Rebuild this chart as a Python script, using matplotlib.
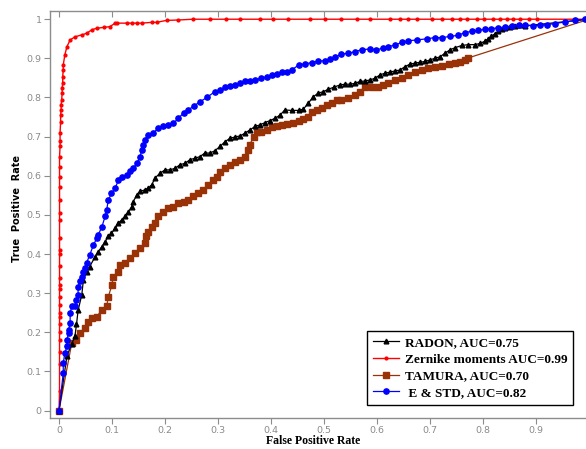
import matplotlib
matplotlib.use("Agg")
import matplotlib.pyplot as plt

# ---- data, (FPR, TPR) pairs ----
radon_points = [
    (0, 0), (0.015, 0.14), (0.024, 0.17), (0.03, 0.19), (0.033, 0.22), (0.036, 0.256), (0.043, 0.296),
    (0.046, 0.334), (0.052, 0.355), (0.058, 0.368), (0.068, 0.393), (0.074, 0.406), (0.081, 0.419),
    (0.087, 0.432), (0.093, 0.445), (0.099, 0.453), (0.106, 0.466), (0.112, 0.479), (0.118, 0.487),
    (0.125, 0.496), (0.131, 0.508), (0.137, 0.521), (0.140, 0.534), (0.147, 0.551), (0.153, 0.560),
    (0.162, 0.564), (0.168, 0.568), (0.175, 0.577), (0.181, 0.594), (0.191, 0.607), (0.200, 0.615),
    (0.209, 0.615), (0.219, 0.619), (0.228, 0.628), (0.238, 0.632), (0.247, 0.641), (0.257, 0.645),
    (0.266, 0.649), (0.275, 0.658), (0.285, 0.658), (0.294, 0.664), (0.304, 0.675), (0.313, 0.687),
    (0.323, 0.696), (0.332, 0.699), (0.342, 0.702), (0.351, 0.709), (0.360, 0.717), (0.370, 0.726),
    (0.379, 0.730), (0.389, 0.736), (0.398, 0.741), (0.408, 0.747), (0.417, 0.755), (0.426, 0.768),
    (0.439, 0.767), (0.452, 0.767), (0.461, 0.770), (0.470, 0.785), (0.480, 0.802), (0.489, 0.811),
    (0.499, 0.815), (0.508, 0.821), (0.518, 0.826), (0.530, 0.832), (0.540, 0.834), (0.549, 0.834),
    (0.558, 0.836), (0.568, 0.841), (0.577, 0.842), (0.587, 0.845), (0.596, 0.849), (0.606, 0.858),
    (0.615, 0.862), (0.625, 0.865), (0.634, 0.868), (0.643, 0.870), (0.653, 0.879), (0.662, 0.885),
    (0.672, 0.888), (0.681, 0.890), (0.691, 0.892), (0.700, 0.896), (0.709, 0.900), (0.719, 0.904),
    (0.728, 0.913), (0.738, 0.922), (0.747, 0.927), (0.760, 0.933), (0.772, 0.935), (0.785, 0.935),
    (0.794, 0.938), (0.804, 0.944), (0.810, 0.950), (0.816, 0.957), (0.823, 0.963), (0.829, 0.969),
    (0.835, 0.974), (0.842, 0.978), (0.851, 0.980), (0.860, 0.983), (0.870, 0.985), (0.879, 0.983),
    (1.0, 1.0)]

zernike_points = [
    (0, 0), (0.001, 0.05), (0.001, 0.12), (0.001, 0.15), (0.001, 0.18), (0.001, 0.20), (0.001, 0.22),
    (0.001, 0.24), (0.001, 0.25), (0.001, 0.27), (0.001, 0.29), (0.001, 0.31), (0.001, 0.32),
    (0.001, 0.34), (0.001, 0.37), (0.001, 0.40), (0.001, 0.41), (0.001, 0.44), (0.001, 0.487),
    (0.001, 0.504), (0.001, 0.538), (0.001, 0.572), (0.001, 0.598), (0.001, 0.623), (0.001, 0.649),
    (0.002, 0.675), (0.002, 0.69), (0.002, 0.709), (0.003, 0.738), (0.003, 0.755), (0.004, 0.768),
    (0.004, 0.781), (0.005, 0.794), (0.006, 0.811), (0.006, 0.825), (0.007, 0.837), (0.007, 0.853),
    (0.008, 0.87), (0.008, 0.883), (0.011, 0.909), (0.015, 0.93), (0.021, 0.947), (0.03, 0.955),
    (0.043, 0.96), (0.052, 0.964), (0.062, 0.973), (0.071, 0.977), (0.084, 0.979), (0.096, 0.981),
    (0.106, 0.99), (0.109, 0.99), (0.128, 0.99), (0.137, 0.99), (0.147, 0.99), (0.156, 0.99),
    (0.175, 0.992), (0.184, 0.992), (0.203, 0.997), (0.225, 0.998), (0.253, 1.0), (0.285, 1.0),
    (0.316, 1.0), (0.342, 1.0), (0.379, 1.0), (0.404, 1.0), (0.433, 1.0), (0.474, 1.0), (0.502, 1.0),
    (0.532, 1.0), (0.562, 1.0), (0.587, 1.0), (0.625, 1.0), (0.643, 1.0), (0.658, 1.0), (0.675, 1.0),
    (0.703, 1.0), (0.722, 1.0), (0.741, 1.0), (0.757, 1.0), (0.769, 1.0), (0.788, 1.0), (0.801, 1.0),
    (0.819, 1.0), (0.832, 1.0), (0.845, 1.0), (0.857, 1.0), (0.87, 1.0), (0.886, 1.0), (0.901, 1.0),
    (1.0, 1.0)]

tamura_points = [
    (0, 0), (0.024, 0.172), (0.033, 0.18), (0.04, 0.198), (0.049, 0.21), (0.055, 0.227), (0.062, 0.236),
    (0.071, 0.24), (0.081, 0.257), (0.09, 0.266), (0.093, 0.291), (0.1, 0.321), (0.102, 0.342),
    (0.112, 0.355), (0.115, 0.372), (0.125, 0.377), (0.134, 0.39), (0.143, 0.402), (0.153, 0.415),
    (0.162, 0.428), (0.165, 0.445), (0.168, 0.457), (0.175, 0.470), (0.181, 0.479), (0.187, 0.496),
    (0.197, 0.508), (0.206, 0.517), (0.216, 0.521), (0.225, 0.530), (0.235, 0.534), (0.244, 0.538),
    (0.253, 0.547), (0.263, 0.555), (0.272, 0.564), (0.282, 0.577), (0.291, 0.589), (0.298, 0.598),
    (0.304, 0.609), (0.313, 0.619), (0.323, 0.628), (0.332, 0.636), (0.342, 0.641), (0.351, 0.649),
    (0.357, 0.666), (0.360, 0.679), (0.367, 0.700), (0.373, 0.713), (0.382, 0.713), (0.392, 0.717),
    (0.401, 0.724), (0.411, 0.727), (0.420, 0.730), (0.430, 0.732), (0.442, 0.736), (0.452, 0.741),
    (0.461, 0.744), (0.470, 0.751), (0.477, 0.764), (0.486, 0.768), (0.496, 0.773), (0.505, 0.781),
    (0.515, 0.787), (0.524, 0.794), (0.533, 0.794), (0.546, 0.798), (0.558, 0.807), (0.568, 0.815),
    (0.577, 0.828), (0.590, 0.828), (0.602, 0.828), (0.612, 0.832), (0.621, 0.837), (0.634, 0.845),
    (0.647, 0.849), (0.659, 0.858), (0.672, 0.866), (0.684, 0.870), (0.697, 0.875), (0.709, 0.879),
    (0.722, 0.881), (0.735, 0.885), (0.747, 0.888), (0.757, 0.891), (0.766, 0.895), (0.772, 0.901),
    (1.0, 1.0)]

estd_points = [
    (0, 0), (0.008, 0.096), (0.008, 0.121), (0.011, 0.147), (0.015, 0.164), (0.015, 0.181),
    (0.018, 0.198), (0.018, 0.206), (0.021, 0.223), (0.021, 0.249), (0.024, 0.266), (0.030, 0.266),
    (0.033, 0.283), (0.036, 0.296), (0.036, 0.317), (0.040, 0.330), (0.043, 0.342), (0.046, 0.355),
    (0.049, 0.364), (0.052, 0.377), (0.058, 0.398), (0.065, 0.423), (0.071, 0.440), (0.074, 0.449),
    (0.081, 0.470), (0.087, 0.496), (0.090, 0.513), (0.093, 0.538), (0.099, 0.555), (0.106, 0.568),
    (0.112, 0.589), (0.118, 0.598), (0.128, 0.602), (0.134, 0.611), (0.140, 0.619), (0.147, 0.632),
    (0.153, 0.649), (0.156, 0.666), (0.159, 0.679), (0.162, 0.692), (0.168, 0.704), (0.178, 0.709),
    (0.187, 0.722), (0.197, 0.726), (0.206, 0.730), (0.216, 0.734), (0.225, 0.747), (0.235, 0.760),
    (0.244, 0.768), (0.254, 0.778), (0.266, 0.789), (0.279, 0.800), (0.294, 0.815), (0.304, 0.819),
    (0.313, 0.826), (0.323, 0.830), (0.332, 0.832), (0.342, 0.837), (0.351, 0.841), (0.360, 0.843),
    (0.370, 0.845), (0.382, 0.849), (0.392, 0.853), (0.401, 0.858), (0.411, 0.860), (0.420, 0.864),
    (0.430, 0.866), (0.439, 0.870), (0.452, 0.883), (0.464, 0.886), (0.477, 0.889), (0.489, 0.893),
    (0.502, 0.894), (0.511, 0.898), (0.521, 0.903), (0.533, 0.911), (0.546, 0.913), (0.558, 0.917),
    (0.571, 0.922), (0.587, 0.924), (0.599, 0.922), (0.612, 0.926), (0.621, 0.930), (0.634, 0.934),
    (0.647, 0.941), (0.659, 0.945), (0.675, 0.947), (0.694, 0.950), (0.709, 0.953), (0.722, 0.953),
    (0.738, 0.956), (0.753, 0.959), (0.766, 0.966), (0.779, 0.969), (0.791, 0.972), (0.804, 0.974),
    (0.816, 0.976), (0.829, 0.978), (0.842, 0.980), (0.854, 0.983), (0.867, 0.985), (0.879, 0.985),
    (0.895, 0.983), (0.908, 0.985), (0.920, 0.986), (0.936, 0.989), (0.955, 0.993), (0.974, 0.997),
    (0.992, 1.0), (1.0, 1.0)]

labels = ["RADON, AUC=0.75", "Zernike moments AUC=0.99", "TAMURA, AUC=0.70", " E & STD, AUC=0.82"]
xticks = [0, 0.1, 0.2, 0.3, 0.4, 0.5, 0.6, 0.7, 0.8, 0.9, 1]
xticklabels = ["0", "0.1", "0.2", "0.3", "0.4", "0.5", "0.6", "0.7", "0.8", "0.9", "1"]
yticks = [0, 0.1, 0.2, 0.3, 0.4, 0.5, 0.6, 0.7, 0.8, 0.9, 1]
yticklabels = ["0", "0.1", "0.2", "0.3", "0.4", "0.5", "0.6", "0.7", "0.8", "0.9", "1"]


def xy(points):
    return [p[0] for p in points], [p[1] for p in points]


W, H = 586, 449
fig = plt.figure(figsize=(W / 100, H / 100), dpi=100)
ax = fig.add_axes([50 / W, 1 - 418 / H, (589 - 50) / W, (418 - 11) / H])

brown = "#9a3207"
ax.plot(*xy(radon_points), color="black", lw=0.9, marker="^", ms=3.4, label=labels[0], zorder=3)
ax.plot(*xy(zernike_points), color="#ff0000", lw=1.0, marker="o", ms=2.0, label=labels[1], zorder=2)
ax.plot(*xy(tamura_points), color=brown, lw=0.9, marker="s", ms=3.8, label=labels[2], zorder=2)
ax.plot(*xy(estd_points), color="#0000ff", lw=0.9, marker="o", ms=3.8, label=labels[3], zorder=4)

ax.set_xlim(-0.017, 1.0)
ax.set_ylim(-0.019, 1.021)
ax.set_xticks(xticks)
ax.set_xticklabels(xticklabels)
ax.set_yticks(yticks)
ax.set_yticklabels(yticklabels)

gray = "#8c8c8c"
for s in ax.spines.values():
    s.set_color(gray)
    s.set_linewidth(1.0)
ax.tick_params(axis="both", direction="out", length=4, width=0.8, color=gray,
               labelcolor="#8a8a8a", labelsize=6.8, pad=2)
ax.tick_params(axis="x", top=True, pad=2)
for t in ax.xaxis.get_major_ticks():
    t.tick2line.set_marker(3)  # inward tick at top
    t.tick2line.set_markersize(4)

fig.text(313.5 / W, 1 - 441 / H, "False Positive Rate", family="Liberation Serif", fontweight="bold",
         fontsize=8.5, ha="center", va="center")
fig.text(17 / W, 1 - 208 / H, "True  Positive  Rate", family="DejaVu Sans", fontweight="bold",
         fontsize=7, ha="center", va="center", rotation=90)

leg = ax.legend(loc="lower left", bbox_to_anchor=(367 / W, 1 - 405 / H), bbox_transform=fig.transFigure,
                prop={"family": "Liberation Serif", "weight": "bold", "size": 9.5},
                frameon=True, fancybox=False, edgecolor="black", framealpha=1,
                handlelength=2.0, handletextpad=0.4, labelspacing=0.34, borderpad=0.45,
                borderaxespad=0)
leg.get_frame().set_linewidth(1.0)

fig.savefig("out.png", dpi=100)
